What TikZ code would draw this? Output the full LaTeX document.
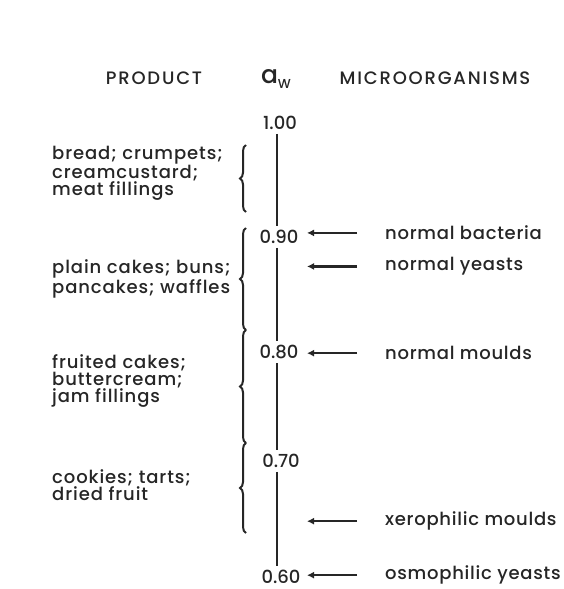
\documentclass[tikz,border=0pt]{standalone}
\usepackage{fontspec}
\setmainfont{Poppins Medium}
\usetikzlibrary{arrows.meta,positioning,decorations.pathreplacing}
\definecolor{inkgray}{RGB}{38,38,38}

\begin{document}
\begin{tikzpicture}[x=1pt, y=-1pt,
  head/.style={font=\fontsize{18}{20}\selectfont\addfontfeature{LetterSpace=10}, text=inkgray},
  val/.style={font=\fontsize{18}{20}\selectfont, inner sep=4pt, text=inkgray},
  prod/.style={font=\fontsize{18}{17}\selectfont\addfontfeature{LetterSpace=5}, align=left, anchor=west, inner sep=0pt, text=inkgray},
  micro/.style={font=\fontsize{18}{20}\selectfont\addfontfeature{LetterSpace=4}, anchor=mid west, inner sep=0pt, text=inkgray},
  axis/.style={line width=2.8pt, draw=inkgray},
  feed/.style={-{Latex[length=7pt,width=7pt]}, line width=2.5pt, draw=inkgray, shorten <=28pt},
  span/.style={decorate, decoration={brace, amplitude=6pt}, line width=2pt, draw=inkgray},
]
  \useasboundingbox[fill=white] (0,0) rectangle (563,589);

  % Headings
  \node[head] (prodhead) at (154,78) {PRODUCT};
  \node[text=inkgray, inner sep=0pt] (awhead) at (276,79) {{\fontsize{25}{25}\selectfont a}\raisebox{-0.9ex}{\fontsize{13}{13}\selectfont W}};
  \node[head] (microhead) at (435,78) {MICROORGANISMS};

  % Scale of a_w
  \coordinate (axx) at (277,0);
  \coordinate (tipx) at (307,0);
  \node[val] (v100) at (280,123) {1.00};
  \node[val] (v90) at (279,237) {0.90};
  \node[val] (v80) at (279,352) {0.80};
  \node[val] (v70) at (281,461) {0.70};
  \node[val] (v60) at (281,577) {0.60};
  \draw[axis] (v100.south -| axx) -- (v90.north -| axx);
  \draw[axis] (v90.south -| axx) -- (v80.north -| axx);
  \draw[axis] (v80.south -| axx) -- (v70.north -| axx);
  \draw[axis] (v70.south -| axx) -- (v60.north -| axx);

  % Products
  \node[prod] (bread) at (52,173) {bread; crumpets;\\creamcustard;\\meat fillings};
  \node[prod] (plain) at (52,279) {plain cakes; buns;\\pancakes; waffles};
  \node[prod] (fruit) at (52,381) {fruited cakes;\\buttercream;\\jam fillings};
  \node[prod] (cookie) at (52,485) {cookies; tarts;\\dried fruit};

  \coordinate (s1) at (246,145);
  \coordinate (s2) at (246,212);
  \coordinate (s3) at (246,228);
  \coordinate (s4) at (246,330);
  \coordinate (s5) at (246,443);
  \coordinate (s6) at (246,533);
  \draw[span] (s2) -- (s1);
  \draw[span] (s4) -- (s3);
  \draw[span] (s5) -- (s4);
  \draw[span] (s6) -- (s5);

  % Microorganisms
  \node[micro] (bact) at (385,237) {normal bacteria};
  \node[micro] (yeast) at (385,268) {normal yeasts};
  \node[micro] (mould) at (385,357) {normal moulds};
  \node[micro] (xero) at (385,523) {xerophilic moulds};
  \node[micro] (osmo) at (385,577) {osmophilic yeasts};
  \draw[feed] (bact.west) -- (bact.west -| tipx);
  \draw[feed] (yeast.west) -- (yeast.west -| tipx);
  \draw[feed] (mould.west) -- (mould.west -| tipx);
  \draw[feed] (xero.west) -- (xero.west -| tipx);
  \draw[feed] (osmo.west) -- (osmo.west -| tipx);
\end{tikzpicture}
\end{document}
